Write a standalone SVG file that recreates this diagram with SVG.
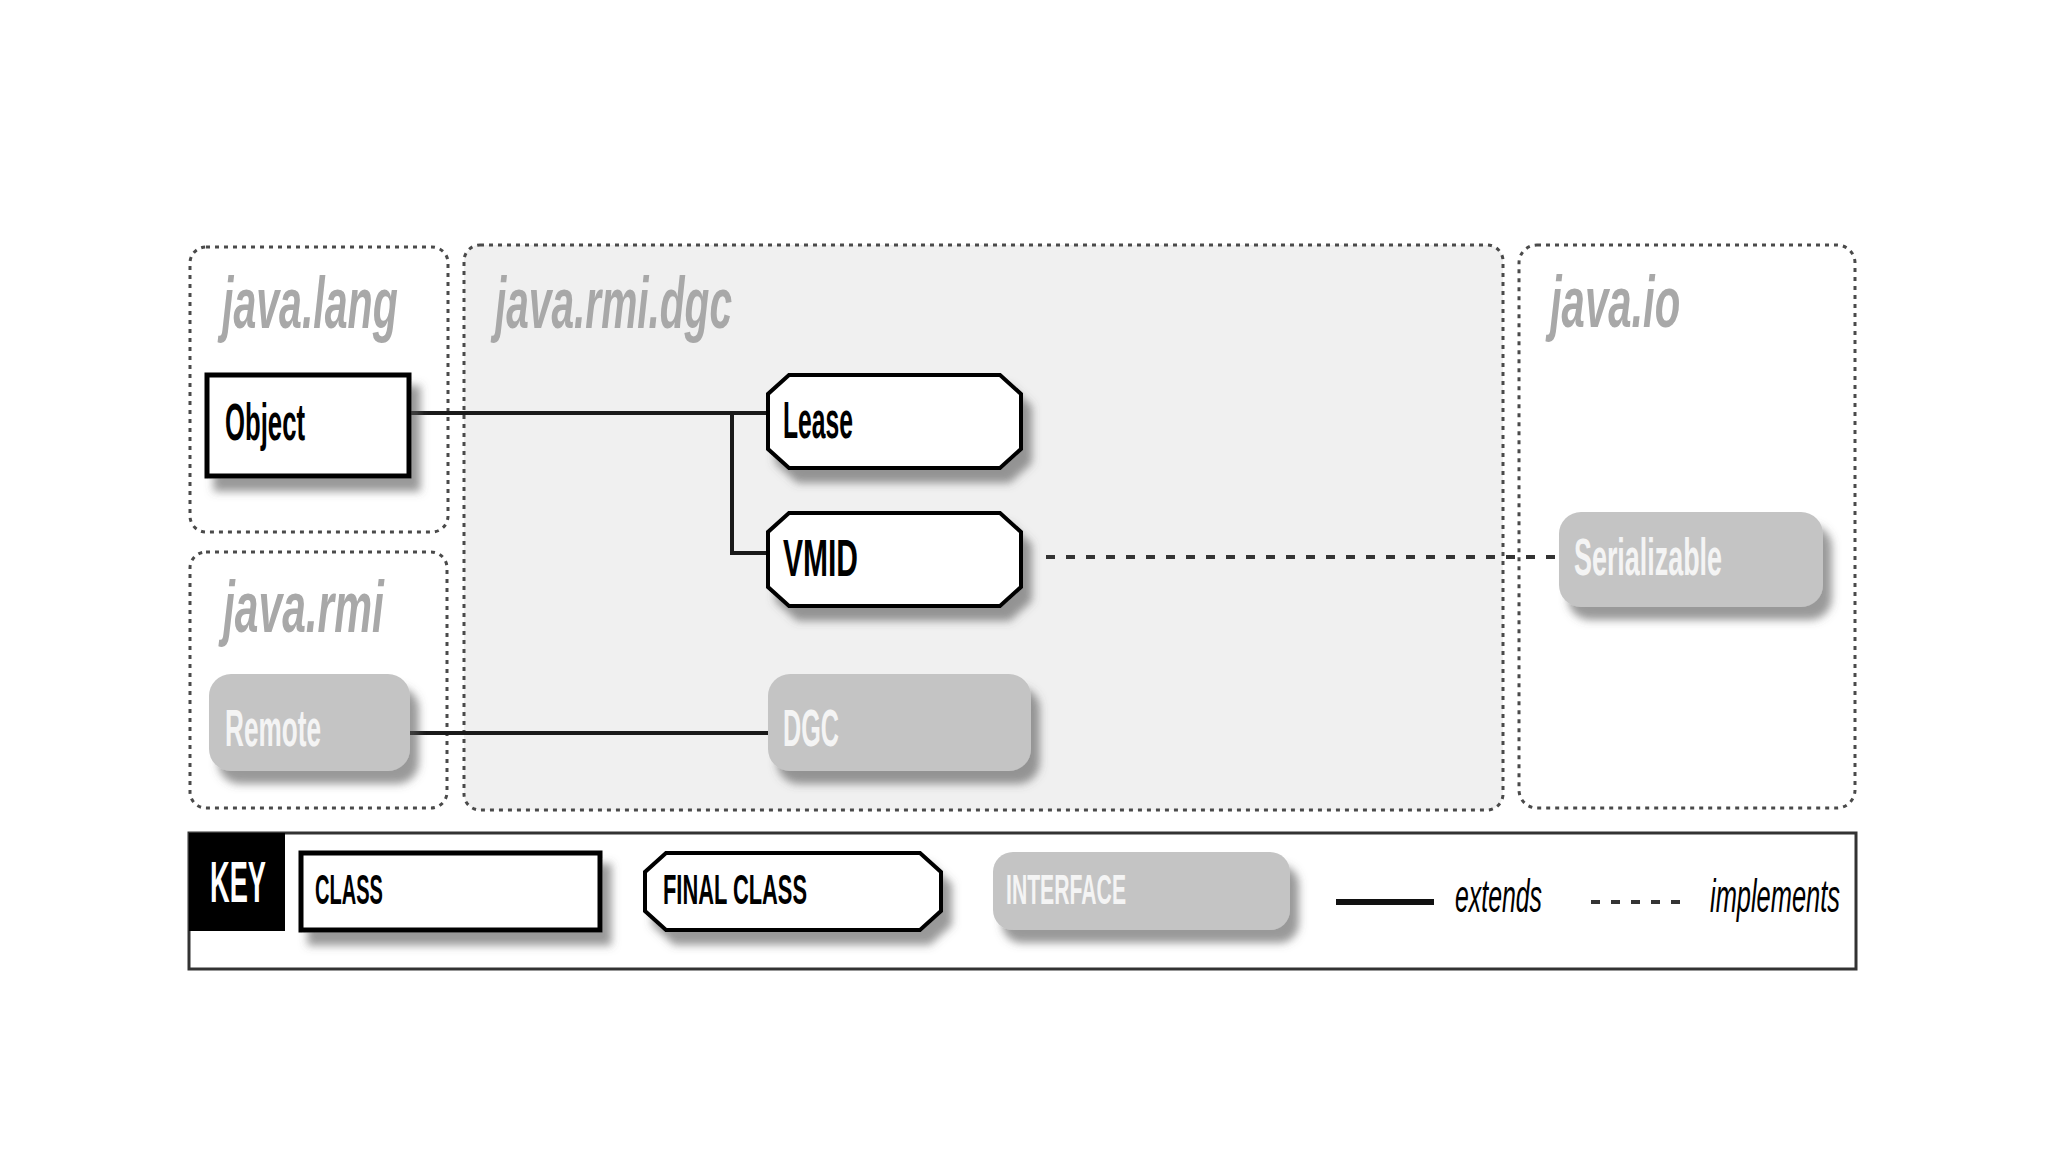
<svg xmlns="http://www.w3.org/2000/svg" width="2048" height="1152" viewBox="0 0 2048 1152">
  <defs>
    <filter id="sh" x="-10%" y="-20%" width="130%" height="170%">
      <feDropShadow dx="9" dy="13" stdDeviation="4" flood-color="#555" flood-opacity="0.6"/>
    </filter>
    <style>
      .pkg { stroke:#4a4a4a; stroke-width:3; stroke-dasharray:4 5; }
      .pkglabel { font-family:"Liberation Sans", Arial, sans-serif; font-weight:bold; font-style:italic; font-size:72px; fill:#a8a8a8; }
      .cls { fill:#ffffff; stroke:#000; stroke-width:5; filter:url(#sh); }
      .fin { fill:#ffffff; stroke:#000; stroke-width:4; stroke-linejoin:miter; filter:url(#sh); }
      .ifc { fill:#c4c4c4; stroke:none; filter:url(#sh); }
      .lbl { font-family:"Liberation Sans", Arial, sans-serif; font-weight:bold; font-size:52px; fill:#000; }
      .ilbl { font-family:"Liberation Sans", Arial, sans-serif; font-weight:bold; font-size:52px; fill:#f4f4f4; }
      .klbl { font-family:"Liberation Sans", Arial, sans-serif; font-weight:bold; font-size:42px; fill:#000; }
      .kilbl { font-family:"Liberation Sans", Arial, sans-serif; font-weight:bold; font-size:42px; fill:#f4f4f4; }
      .kit { font-family:"Liberation Sans", Arial, sans-serif; font-style:italic; font-size:46px; fill:#000; }
      .ext { fill:none; stroke:#1a1a1a; stroke-width:4; }
      .impl { fill:none; stroke:#333; stroke-width:4; stroke-dasharray:9 11; }
    </style>
  </defs>
  <rect x="0" y="0" width="2048" height="1152" fill="#ffffff"/>

  <!-- packages -->
  <g id="pkg-java-lang">
    <rect class="pkg" x="190" y="247" width="258" height="285" rx="16" fill="#ffffff"/>
    <text class="pkglabel" transform="translate(222,328) scale(0.6,1)" x="0" y="0" textLength="293" lengthAdjust="spacingAndGlyphs">java.lang</text>
  </g>
  <g id="pkg-java-rmi">
    <rect class="pkg" x="190" y="552" width="257" height="256" rx="16" fill="#ffffff"/>
    <text class="pkglabel" transform="translate(223,632) scale(0.6,1)" x="0" y="0" textLength="268" lengthAdjust="spacingAndGlyphs">java.rmi</text>
  </g>
  <g id="pkg-java-rmi-dgc">
    <rect class="pkg" x="464" y="245" width="1039" height="565" rx="16" fill="#f0f0f0"/>
    <text class="pkglabel" transform="translate(495,328) scale(0.6,1)" x="0" y="0" textLength="395" lengthAdjust="spacingAndGlyphs">java.rmi.dgc</text>
  </g>
  <g id="pkg-java-io">
    <rect class="pkg" x="1519" y="245" width="336" height="563" rx="18" fill="#ffffff"/>
    <text class="pkglabel" transform="translate(1550,327) scale(0.6,1)" x="0" y="0" textLength="217" lengthAdjust="spacingAndGlyphs">java.io</text>
  </g>

  <!-- connectors -->
  <g id="connectors">
    <path class="ext" d="M409,413 H768"/>
    <path class="ext" d="M732,413 V553 H768"/>
    <path class="ext" d="M410,733 H768"/>
    <path class="impl" d="M1046,557 H1561"/>
  </g>

  <!-- nodes -->
  <g id="node-object">
    <rect class="cls" x="207" y="375" width="202" height="101"/>
    <text class="lbl" x="225" y="440" textLength="80" lengthAdjust="spacingAndGlyphs">Object</text>
  </g>
  <g id="node-lease">
    <path class="fin" d="M789,375 H1000 L1021,394 V449 L1000,468 H789 L768,449 V394 Z"/>
    <text class="lbl" x="783" y="438" textLength="70" lengthAdjust="spacingAndGlyphs">Lease</text>
  </g>
  <g id="node-vmid">
    <path class="fin" d="M789,513 H1000 L1021,532 V587 L1000,606 H789 L768,587 V532 Z"/>
    <text class="lbl" x="783" y="576" textLength="75" lengthAdjust="spacingAndGlyphs">VMID</text>
  </g>
  <g id="node-remote">
    <rect class="ifc" x="209" y="674" width="201" height="97" rx="22"/>
    <text class="ilbl" x="225" y="746" textLength="96" lengthAdjust="spacingAndGlyphs">Remote</text>
  </g>
  <g id="node-dgc">
    <rect class="ifc" x="768" y="674" width="263" height="97" rx="22"/>
    <text class="ilbl" x="783" y="746" textLength="56" lengthAdjust="spacingAndGlyphs">DGC</text>
  </g>
  <g id="node-serializable">
    <rect class="ifc" x="1559" y="512" width="264" height="95" rx="22"/>
    <text class="ilbl" x="1574" y="575" textLength="148" lengthAdjust="spacingAndGlyphs">Serializable</text>
  </g>

  <!-- key -->
  <g id="key">
    <rect x="189" y="833" width="1667" height="136" fill="#ffffff" stroke="#333" stroke-width="3"/>
    <rect x="189" y="833" width="96" height="98" fill="#000"/>
    <text transform="translate(210,902) scale(0.5,1)" x="0" y="0" font-family="Liberation Sans, Arial, sans-serif" font-weight="bold" font-size="58" fill="#ffffff" textLength="112" lengthAdjust="spacingAndGlyphs">KEY</text>
    <rect class="cls" x="301" y="853" width="299" height="77"/>
    <text class="klbl" x="315" y="904" textLength="68" lengthAdjust="spacingAndGlyphs">CLASS</text>
    <path class="fin" d="M666,853 H920 L941,872 V911 L920,930 H666 L645,911 V872 Z"/>
    <text class="klbl" x="663" y="904" textLength="144" lengthAdjust="spacingAndGlyphs">FINAL CLASS</text>
    <rect class="ifc" x="993" y="852" width="297" height="78" rx="20"/>
    <text class="kilbl" x="1006" y="904" textLength="120" lengthAdjust="spacingAndGlyphs">INTERFACE</text>
    <path d="M1336,902 H1434" stroke="#111" stroke-width="6" fill="none"/>
    <text class="kit" x="1455" y="912" textLength="87" lengthAdjust="spacingAndGlyphs">extends</text>
    <path d="M1591,902 H1686" stroke="#333" stroke-width="4" stroke-dasharray="9 11" fill="none"/>
    <text class="kit" x="1710" y="912" textLength="130" lengthAdjust="spacingAndGlyphs">implements</text>
  </g>
</svg>
